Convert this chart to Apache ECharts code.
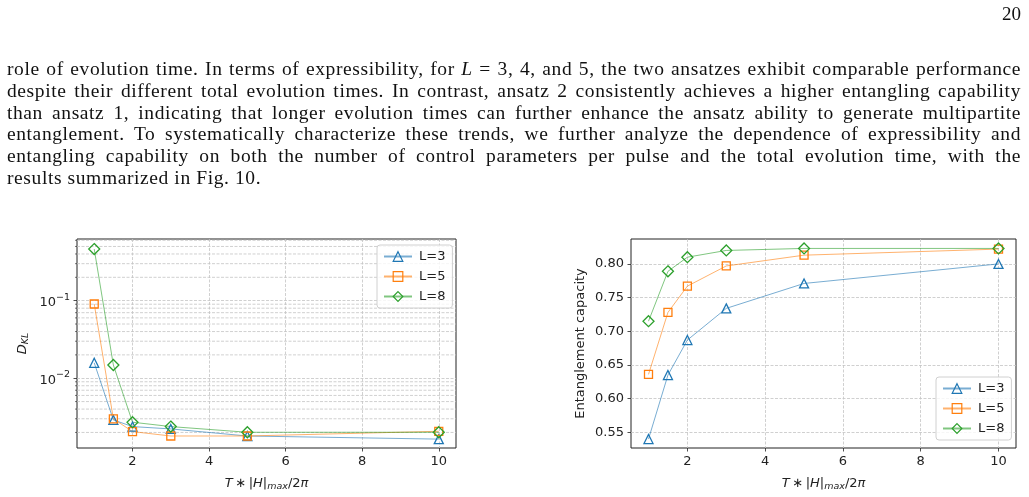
<!DOCTYPE html>
<html>
<head>
<meta charset="utf-8">
<script src="https://cdn.jsdelivr.net/npm/echarts@6/dist/echarts.min.js"></script>
<style>
html,body{margin:0;padding:0;background:#fff;}
#page{position:relative;width:1029px;height:497px;overflow:hidden;}
#main{position:absolute;left:0;top:0;width:1029px;height:497px;}
.ln{position:absolute;left:7px;font-family:"Liberation Serif",serif;font-size:19.5px;letter-spacing:0.6px;line-height:22px;color:#111;white-space:nowrap;}
#pg{position:absolute;right:8px;top:3px;font-family:"Liberation Serif",serif;font-size:19px;color:#111;}
</style>
</head>
<body>
<div id="page">
<div id="main"></div>
<div id="pg">20</div>
<div class="ln fill" style="top:58px">role of evolution time. In terms of expressibility, for <i>L</i> = 3, 4, and 5, the two ansatzes exhibit comparable performance</div>
<div class="ln fill" style="top:80px">despite their different total evolution times. In contrast, ansatz 2 consistently achieves a higher entangling capability</div>
<div class="ln fill" style="top:101.5px">than ansatz 1, indicating that longer evolution times can further enhance the ansatz ability to generate multipartite</div>
<div class="ln fill" style="top:123px">entanglement. To systematically characterize these trends, we further analyze the dependence of expressibility and</div>
<div class="ln fill" style="top:145px">entangling capability on both the number of control parameters per pulse and the total evolution time, with the</div>
<div class="ln" style="top:166.5px">results summarized in Fig. 10.</div>
</div>
<script>
// evolution time values (x axis of both panels)
var T = [1, 1.5, 2, 3, 5, 10];

// left panel: D_KL (log scale)
var dklL3 = [0.0158, 0.0029, 0.00238, 0.00222, 0.0018, 0.00164];
var dklL5 = [0.0906, 0.0030, 0.00205, 0.0018, 0.0018, 0.00207];
var dklL8 = [0.463, 0.0148, 0.00271, 0.00238, 0.00201, 0.00201];

// right panel: entanglement capacity
var entL3 = [0.540, 0.635, 0.687, 0.734, 0.771, 0.800];
var entL5 = [0.636, 0.728, 0.767, 0.797, 0.813, 0.822];
var entL8 = [0.715, 0.789, 0.810, 0.820, 0.823, 0.823];

var names = ['L=3', 'L=5', 'L=8'];
var xTicks = [2, 4, 6, 8, 10];
var logTicks = [0.01, 0.1];
var entTicks = [0.55, 0.60, 0.65, 0.70, 0.75, 0.80];
var decades = [0.001, 0.01, 0.1];
var minorSteps = [2, 3, 4, 5, 6, 7, 8, 9];

var colors = ['#1f77b4', '#ff7f0e', '#2ca02c'];
var symbols = ['triangle', 'rect', 'diamond'];
var symSizes = [9, 8, 11];

var xMin = 0.55, xMax = 10.45;
var logMin = 0.00126, logMax = 0.624;
var entMin = 0.5267, entMax = 0.837;

// stretch the word gaps of each full text line to the column width
var colWidth = 1014;
document.querySelectorAll('.fill').forEach(function (el) {
  var gaps = el.textContent.split(' ').length - 1;
  var w = el.getBoundingClientRect().width;
  el.style.wordSpacing = ((colWidth - w) / gaps) + 'px';
});

var minorVals = [];
decades.forEach(function (d) {
  minorSteps.forEach(function (m) {
    var v = d * m;
    if (v > logMin && v < logMax) minorVals.push(v);
  });
});

var txt = '#222';
var gridCol = '#c4c4c4';
var font = 'DejaVu Sans';

function pairs(ys) {
  return T.map(function (t, i) { return [t, ys[i]]; });
}

function lineSeries(name, idx, ys, ax) {
  return {
    name: name,
    type: 'line',
    xAxisIndex: ax,
    yAxisIndex: ax,
    data: pairs(ys),
    symbol: symbols[idx],
    symbolSize: symSizes[idx],
    showAllSymbol: true,
    z: 5,
    lineStyle: { color: colors[idx], width: 1, opacity: 0.6 },
    itemStyle: { color: 'rgba(255,255,255,0)', borderColor: colors[idx], borderWidth: 1.3 },
    emphasis: { disabled: true },
    animation: false
  };
}

function xAxisCfg(gi) {
  return {
    type: 'value',
    gridIndex: gi,
    min: xMin,
    max: xMax,
    name: '{i|T}{n|\u2009\u2217\u2009|}{i|H}{n||}{s|max}{n|/2}{i|\u03c0}',
    nameLocation: 'middle',
    nameGap: 28,
    nameTextStyle: {
      fontFamily: font, color: txt,
      rich: {
        i: { fontSize: 13, fontStyle: 'italic', fontFamily: font, color: txt },
        n: { fontSize: 13, fontFamily: font, color: txt },
        s: { fontSize: 9.5, fontStyle: 'italic', fontFamily: font, color: txt, padding: [6, 0, 0, 0] }
      }
    },
    axisLine: { show: false },
    axisTick: { show: true, length: 3.5, customValues: xTicks, lineStyle: { color: txt, width: 0.8 } },
    axisLabel: { customValues: xTicks, fontSize: 13, fontFamily: font, color: txt, margin: 7 },
    splitLine: { show: true, lineStyle: { color: gridCol, width: 0.8, type: [3, 1.5] } }
  };
}

function legendCfg(left, top) {
  return {
    data: names, orient: 'vertical', left: left, top: top,
    padding: [5, 7, 5, 6], itemGap: 7, itemWidth: 28, itemHeight: 12,
    borderColor: '#d0d0d0', borderWidth: 1, borderRadius: 3,
    backgroundColor: 'rgba(255,255,255,0.8)',
    itemStyle: { color: 'rgba(255,255,255,0)', borderWidth: 1.2 },
    textStyle: { fontSize: 13, fontFamily: font, color: txt, padding: [0, 0, 0, 2] },
    selectedMode: false
  };
}

var option = {
  backgroundColor: '#fff',
  animation: false,
  textStyle: { fontFamily: font },
  grid: [
    { left: 77, top: 239, width: 379, height: 209, show: true, borderColor: '#222', borderWidth: 1, containLabel: false },
    { left: 631, top: 239, width: 385, height: 209, show: true, borderColor: '#222', borderWidth: 1, containLabel: false }
  ],
  legend: [legendCfg(377, 245), legendCfg(936, 377)],
  xAxis: [xAxisCfg(0), xAxisCfg(1)],
  yAxis: [
    {
      type: 'log',
      gridIndex: 0,
      logBase: 10,
      min: logMin,
      max: logMax,
      name: '{d|D}{s|KL}',
      nameLocation: 'middle',
      nameGap: 46,
      nameRotate: 90,
      nameTextStyle: {
        rich: {
          d: { fontSize: 13, fontStyle: 'italic', fontFamily: font, color: txt },
          s: { fontSize: 9.5, fontStyle: 'italic', fontFamily: font, color: txt, padding: [6, 0, 0, 0] }
        }
      },
      axisLine: { show: false },
      axisTick: { show: true, length: 3.5, customValues: logTicks, lineStyle: { color: txt, width: 0.8 } },
      axisLabel: {
        customValues: logTicks,
        margin: 7,
        formatter: function (v) {
          var e = Math.round(Math.log(v) / Math.LN10);
          return '{b|10}{e|\u2212' + (-e) + '}';
        },
        rich: {
          b: { fontSize: 13, fontFamily: font, color: txt, verticalAlign: 'bottom' },
          e: { fontSize: 9.5, fontFamily: font, color: txt, verticalAlign: 'bottom', padding: [0, 0, 7, 0] }
        }
      },
      splitLine: { show: true, lineStyle: { color: gridCol, width: 0.8, type: [3, 1.5] } }
    },
    {
      type: 'value',
      gridIndex: 1,
      min: entMin,
      max: entMax,
      name: 'Entanglement capacity',
      nameLocation: 'middle',
      nameGap: 44,
      nameRotate: 90,
      nameTextStyle: { fontSize: 13, fontFamily: font, color: txt },
      axisLine: { show: false },
      axisTick: { show: true, length: 3.5, customValues: entTicks, lineStyle: { color: txt, width: 0.8 } },
      axisLabel: {
        customValues: entTicks, margin: 7, fontSize: 13, fontFamily: font, color: txt,
        formatter: function (v) { return v.toFixed(2); }
      },
      splitLine: { show: true, lineStyle: { color: gridCol, width: 0.8, type: [3, 1.5] } }
    }
  ],
  series: [
    {
      type: 'custom',
      xAxisIndex: 0,
      yAxisIndex: 0,
      silent: true,
      clip: false,
      z: 1,
      data: minorVals.map(function (v) { return [xMin, v]; }),
      renderItem: function (params, api) {
        var y = api.coord([xMin, api.value(1)])[1];
        var x0 = params.coordSys.x;
        var x1 = x0 + params.coordSys.width;
        return {
          type: 'group',
          children: [
            { type: 'line', shape: { x1: x0, y1: y, x2: x1, y2: y }, style: { stroke: gridCol, lineWidth: 0.8, lineDash: [3, 1.5] } },
            { type: 'line', shape: { x1: x0 - 2, y1: y, x2: x0, y2: y }, style: { stroke: txt, lineWidth: 0.6 } }
          ]
        };
      }
    },
    lineSeries(names[0], 0, dklL3, 0),
    lineSeries(names[1], 1, dklL5, 0),
    lineSeries(names[2], 2, dklL8, 0),
    lineSeries(names[0], 0, entL3, 1),
    lineSeries(names[1], 1, entL5, 1),
    lineSeries(names[2], 2, entL8, 1)
  ]
};

var chart = echarts.init(document.getElementById('main'), null, { renderer: 'canvas' });
chart.setOption(option);
</script>
</body>
</html>
